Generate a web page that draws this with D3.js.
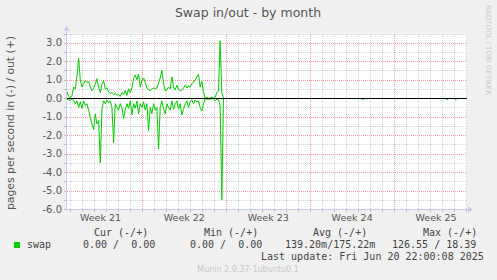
<!DOCTYPE html>
<html>
<head>
<meta charset="utf-8">
<script src="https://cdn.jsdelivr.net/npm/d3@7"></script>
<style>
body { margin: 0; background: #f0f0f0; }
svg { display: block; }
text { font-family: "DejaVu Sans", sans-serif; fill: #555; }
.mono { font-family: "DejaVu Sans Mono", monospace; fill: #444; }
</style>
</head>
<body>
<svg id="chart" width="497" height="280"></svg>
<script>
// time window of the month graph, one sample every 200 minutes
var startTime = new Date("2025-05-19T17:00:00Z")
var endTime = new Date("2025-06-22T02:00:00Z")
var stepMinutes = 200

// pages per second swapped out (+)
var swapOut = [0.35, 0.1, 0.0, 0.15, 0.6, 0.5, 1.2, 2.15, 1.0, 0.6,
    0.8, 0.95, 0.85, 0.9, 0.6, 0.4, 0.55, 0.75, 1.05, 0.6,
    0.3, 0.75, 0.95, 0.5, 0.55, 0.35, 0.25, 0.3, 0.2, 0.25,
    0.15, 0.2, 0.1, 0.3, 0.2, 0.4, 0.15, 0.5, 0.3, 0.55,
    1.05, 1.25, 1.0, 1.3, 0.6, 0.95, 1.1, 0.85, 0.55, 0.45,
    0.4, 0.5, 0.55, 0.5, 0.55, 0.8, 1.1, 1.5, 0.8, 0.4,
    0.45, 0.6, 0.5, 1.15, 0.6, 0.45, 0.7, 0.5, 0.4, 0.45,
    0.55, 0.7, 0.55, 0.65, 0.6, 0.8, 0.85, 1.0, 1.15, 1.3,
    0.6, 0.9, 0.35, 0.0, 0.05, 0.0, 0.0, 0.05, 0.0, 0.05,
    0.3, 0.4, 3.1, 0.3, 0.0]

// pages per second swapped in (-)
var swapIn = [0.05, 0.1, 0.1, 0.05, 0.15, 0.3, 0.15, 0.5, 0.2, 0.55,
    0.15, 0.4, 0.3, 0.65, 1.05, 1.4, 1.7, 0.85, 1.4, 1.2,
    3.5, 0.6, 0.15, 0.3, 0.1, 0.25, 0.15, 0.5, 2.4, 0.3,
    0.5, 0.65, 0.3, 0.5, 1.1, 0.65, 0.3, 0.55, 0.15, 0.9,
    0.3, 0.55, 0.15, 0.85, 0.3, 0.5, 0.2, 0.65, 0.3, 1.75,
    0.5, 0.85, 0.3, 0.65, 0.5, 2.75, 0.5, 0.15, 0.6, 0.85,
    0.3, 0.5, 0.65, 0.15, 0.6, 0.3, 0.15, 0.6, 0.3, 0.9,
    0.6, 0.3, 0.15, 0.5, 0.2, 0.1, 0.3, 0.1, 0.2, 0.15,
    0.5, 0.7, 0.3, 0.05, 0.05, 0.05, 0.05, 0.0, 0.05, 0.15,
    0.05, 0.1, 0.4, 5.5, 0.0]

// isolated tiny readings later in the month
var blipTimes = ["2025-06-13T08:00:00Z", "2025-06-20T09:00:00Z", "2025-06-21T01:40:00Z"]
var blipValues = [-0.04, -0.04, -0.04]

var yTicks = [-6, -5, -4, -3, -2, -1, 0, 1, 2, 3]
var weekNames = ["Week 21", "Week 22", "Week 23", "Week 24", "Week 25"]
var weekStarts = ["2025-05-19", "2025-05-26", "2025-06-02", "2025-06-09", "2025-06-16"]

var legendHeads = ["Cur (-/+)", "Min (-/+)", "Avg (-/+)", "Max (-/+)"]
var legendValues = ["0.00 /  0.00", "0.00 /  0.00", "139.20m/175.22m", "126.55 / 18.39"]

var svg = d3.select("#chart")
var plotLeft = 67, plotRight = 467, plotTop = 33.5, plotBottom = 209

var x = d3.scaleUtc().domain([startTime, endTime]).range([plotLeft, plotRight])
var y = d3.scaleLinear().domain([-6, 3.5]).range([plotBottom, plotTop])

function sampleTime(i) {
    return new Date(startTime.getTime() + i * stepMinutes * 60000)
}
function crisp(v) {
    return Math.round(v) + 0.5
}

// title and side texts
svg.append("text").attr("x", 248).attr("y", 17).attr("text-anchor", "middle")
    .style("font-size", "12.5px").text("Swap in/out - by month")
svg.append("text").attr("transform", "translate(14,123) rotate(-90)")
    .attr("text-anchor", "middle").style("font-size", "10.8px")
    .text("pages per second in (-) / out (+)")
svg.append("text").attr("transform", "translate(486,5) rotate(90)")
    .style("font-size", "7px").style("fill", "#c8c8c8")
    .text("RRDTOOL / TOBI OETIKER")

// plot canvas
svg.append("rect").attr("x", plotLeft).attr("y", plotTop)
    .attr("width", plotRight - plotLeft).attr("height", plotBottom - plotTop).attr("fill", "#fff")

var grid = svg.append("g").attr("shape-rendering", "crispEdges")

// minor grid: every half unit and every day
var halfSteps = d3.range(-5.5, 3.51, 1)
grid.selectAll(".hmin").data(halfSteps).enter().append("line")
    .attr("x1", plotLeft).attr("x2", plotRight)
    .attr("y1", function (d) { return crisp(y(d)) })
    .attr("y2", function (d) { return crisp(y(d)) })
    .attr("stroke", "#d4d4d4").attr("stroke-dasharray", "1,1")

var days = d3.utcDay.range(startTime, endTime)
grid.selectAll(".vmin").data(days).enter().append("line")
    .attr("x1", function (d) { return crisp(x(d)) })
    .attr("x2", function (d) { return crisp(x(d)) })
    .attr("y1", plotTop).attr("y2", plotBottom)
    .attr("stroke", "#d4d4d4").attr("stroke-dasharray", "1,1")

// major grid: every unit and every week
grid.selectAll(".hmaj").data(yTicks).enter().append("line")
    .attr("x1", plotLeft).attr("x2", plotRight)
    .attr("y1", function (d) { return crisp(y(d)) })
    .attr("y2", function (d) { return crisp(y(d)) })
    .attr("stroke", "#f2a0a0").attr("stroke-dasharray", "1,1")

var weekDates = weekStarts.map(function (s) { return new Date(s + "T00:00:00Z") })
grid.selectAll(".vmaj").data(weekDates.filter(function (d) { return d > startTime })).enter().append("line")
    .attr("x1", function (d) { return crisp(x(d)) })
    .attr("x2", function (d) { return crisp(x(d)) })
    .attr("y1", plotTop).attr("y2", plotBottom)
    .attr("stroke", "#f2a0a0").attr("stroke-dasharray", "1,1")

// y tick labels
svg.selectAll(".ylab").data(yTicks).enter().append("text")
    .attr("x", 62).attr("y", function (d) { return y(d) + 3.5 })
    .attr("text-anchor", "end").style("font-size", "10px")
    .text(function (d) { return d3.format(".1f")(d).replace("\u2212", "-") })

// week labels centred in each week
svg.selectAll(".xlab").data(weekDates).enter().append("text")
    .attr("x", function (d) { return x(d3.utcHour.offset(d, 84)) })
    .attr("y", 221).attr("text-anchor", "middle").style("font-size", "9.5px")
    .text(function (d, i) { return weekNames[i] })

// data lines
var line = d3.line()
    .x(function (d, i) { return x(sampleTime(i)) })
    .y(function (d) { return y(d) })

svg.append("path").datum(swapOut).attr("d", line)
    .attr("fill", "none").attr("stroke", "#00cc00").attr("stroke-width", 1)
svg.append("path").datum(swapIn.map(function (v) { return -v })).attr("d", line)
    .attr("fill", "none").attr("stroke", "#00cc00").attr("stroke-width", 1)

svg.selectAll(".blip").data(blipTimes).enter().append("line")
    .attr("x1", function (d) { return x(new Date(d)) })
    .attr("x2", function (d) { return x(d3.utcMinute.offset(new Date(d), stepMinutes)) })
    .attr("y1", function (d, i) { return y(blipValues[i]) + 0.5 })
    .attr("y2", function (d, i) { return y(blipValues[i]) + 0.5 })
    .attr("stroke", "#00cc00")

// zero rule
svg.append("line").attr("x1", plotLeft).attr("x2", plotRight)
    .attr("y1", crisp(y(0))).attr("y2", crisp(y(0)))
    .attr("stroke", "#000").attr("shape-rendering", "crispEdges")

// axes with arrows and ticks
var axisColor = "#c8c8f0"
var ax = svg.append("g").attr("shape-rendering", "crispEdges")
ax.append("line").attr("x1", plotLeft - 0.5).attr("x2", plotLeft - 0.5)
    .attr("y1", plotBottom).attr("y2", plotTop - 4).attr("stroke", axisColor)
ax.append("line").attr("x1", plotLeft - 2).attr("x2", plotRight + 3)
    .attr("y1", plotBottom + 0.5).attr("y2", plotBottom + 0.5).attr("stroke", axisColor)
ax.selectAll(".yt").data(d3.range(-6, 3.51, 0.5)).enter().append("line")
    .attr("x1", plotLeft - 3).attr("x2", plotLeft - 1)
    .attr("y1", function (d) { return crisp(y(d)) })
    .attr("y2", function (d) { return crisp(y(d)) })
    .attr("stroke", "#bbb")
ax.selectAll(".xt").data(days).enter().append("line")
    .attr("x1", function (d) { return crisp(x(d)) })
    .attr("x2", function (d) { return crisp(x(d)) })
    .attr("y1", plotBottom + 1).attr("y2", plotBottom + 3)
    .attr("stroke", "#bbb")
svg.append("path")
    .attr("d", "M" + (plotLeft - 3.5) + "," + (plotTop - 3) + "L" + (plotLeft + 2.5) + "," + (plotTop - 3) +
        "L" + (plotLeft - 0.5) + "," + (plotTop - 8) + "Z")
    .attr("fill", axisColor)
svg.append("path")
    .attr("d", "M" + (plotRight + 1) + "," + (plotBottom - 2.5) + "L" + (plotRight + 1) + "," + (plotBottom + 3.5) +
        "L" + (plotRight + 6) + "," + (plotBottom + 0.5) + "Z")
    .attr("fill", axisColor)

// legend
var headX = [94, 204, 313, 423]
var valueX = [83, 190, 285, 392]
svg.selectAll(".lh").data(legendHeads).enter().append("text").attr("class", "mono")
    .attr("x", function (d, i) { return headX[i] }).attr("y", 236)
    .attr("xml:space", "preserve").style("font-size", "10px").text(function (d) { return d })
svg.selectAll(".lv").data(legendValues).enter().append("text").attr("class", "mono")
    .attr("x", function (d, i) { return valueX[i] }).attr("y", 248)
    .attr("xml:space", "preserve").style("font-size", "10px").text(function (d) { return d })
svg.append("rect").attr("x", 14).attr("y", 242).attr("width", 6).attr("height", 6).attr("fill", "#00cc00")
svg.append("text").attr("class", "mono").attr("x", 27).attr("y", 248)
    .style("font-size", "10px").text("swap")
svg.append("text").attr("class", "mono").attr("x", 261).attr("y", 260)
    .style("font-size", "10px").text("Last update: Fri Jun 20 22:00:08 2025")
svg.append("text").attr("x", 248).attr("y", 272).attr("text-anchor", "middle")
    .style("font-size", "8px").style("fill", "#c8c8c8").text("Munin 2.0.37-1ubuntu0.1")
</script>
</body>
</html>
